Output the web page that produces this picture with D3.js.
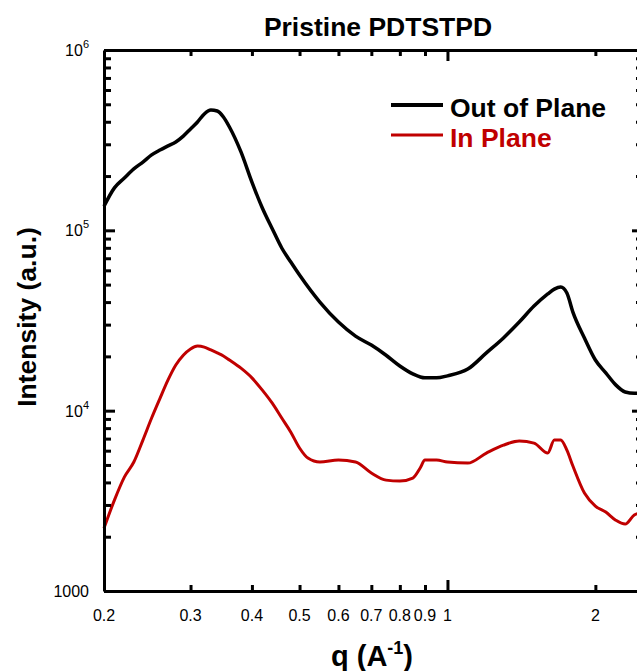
<!DOCTYPE html>
<html>
<head>
<meta charset="utf-8">
<script src="https://cdn.jsdelivr.net/npm/d3@7"></script>
<style>
  body { margin: 0; background: #fff; }
  text { font-family: "Liberation Sans", Arial, sans-serif; fill: #000; }
</style>
</head>
<body>
<svg id="canvas"></svg>
<script>
// q values (A^-1) and intensities
const qOut = [0.2, 0.21, 0.22, 0.23, 0.24, 0.25, 0.26, 0.27, 0.28, 0.29, 0.3, 0.31, 0.32, 0.33, 0.34, 0.35, 0.36, 0.38, 0.4, 0.42, 0.44, 0.46, 0.48, 0.5, 0.55, 0.6, 0.65, 0.7, 0.75, 0.8, 0.85, 0.9, 0.95, 1.0, 1.1, 1.2, 1.3, 1.4, 1.5, 1.6, 1.65, 1.7, 1.75, 1.8, 1.9, 2.0, 2.1, 2.2, 2.3, 2.4, 2.45];
const iOut = [136000, 172000, 195000, 219000, 239000, 262000, 279000, 294000, 309000, 333000, 365000, 399000, 442000, 465000, 459000, 425000, 374000, 272000, 185000, 133000, 102000, 79800, 66700, 56500, 40000, 31000, 25900, 23100, 20300, 17700, 16000, 15200, 15200, 15600, 17000, 20900, 25300, 31000, 38000, 44400, 47200, 48500, 44900, 35200, 25300, 19100, 16200, 13900, 12700, 12500, 12500];

const qIn = [0.2, 0.21, 0.22, 0.23, 0.24, 0.25, 0.26, 0.27, 0.28, 0.29, 0.3, 0.31, 0.32, 0.33, 0.34, 0.35, 0.36, 0.38, 0.4, 0.42, 0.44, 0.46, 0.48, 0.5, 0.52, 0.55, 0.6, 0.65, 0.7, 0.75, 0.8, 0.85, 0.88, 0.9, 0.95, 1.0, 1.1, 1.2, 1.3, 1.4, 1.5, 1.6, 1.65, 1.7, 1.75, 1.8, 1.9, 2.0, 2.1, 2.2, 2.3, 2.4, 2.45];
const iIn = [2230, 3190, 4280, 5190, 6870, 9100, 11700, 14800, 17900, 20300, 22000, 22800, 22500, 21700, 20900, 20100, 19100, 17200, 15200, 13000, 11000, 9100, 7600, 6210, 5460, 5190, 5320, 5190, 4510, 4120, 4070, 4230, 4810, 5320, 5320, 5190, 5120, 5820, 6440, 6780, 6610, 5820, 6870, 6870, 6040, 4930, 3490, 2960, 2740, 2470, 2350, 2640, 2700];

const seriesNames = ['Out of Plane', 'In Plane'];
const seriesColors = ['#000000', '#c00000'];

const xTickLabels = [0.2, 0.3, 0.4, 0.5, 0.6, 0.7, 0.8, 0.9, 1, 2];
const xMinor = [0.3, 0.4, 0.5, 0.6, 0.7, 0.8, 0.9, 2];
const yMajor = [1000, 1e4, 1e5, 1e6];

const w = 637;
const h = 671;
const padLeft = 104, padTop = 50, padBottom = 591, padRight = 643;

const x = d3.scaleLog().domain([0.2, 2.5]).range([padLeft, padRight]);
const y = d3.scaleLog().domain([1000, 1e6]).range([padBottom, padTop]);

// minor y ticks 2..9 in each decade
let yMinor = [];
for (let k = 3; k < 6; k++) {
  for (let m = 2; m <= 9; m++) yMinor.push(m * Math.pow(10, k));
}

const svg = d3.select('#canvas').attr('width', w).attr('height', h);

// curves
const line = d3.line()
  .x(d => x(d[0]))
  .y(d => y(d[1]))
  .curve(d3.curveMonotoneX);

const outData = qOut.map((q, i) => [q, iOut[i]]);
const inData = qIn.map((q, i) => [q, iIn[i]]);

svg.append('path').datum(outData).attr('d', line)
  .attr('fill', 'none').attr('stroke', seriesColors[0]).attr('stroke-width', 3.5).attr('stroke-linejoin', 'round');
svg.append('path').datum(inData).attr('d', line)
  .attr('fill', 'none').attr('stroke', seriesColors[1]).attr('stroke-width', 3).attr('stroke-linejoin', 'round');

// axes
function styleAxis(g) {
  g.select('.domain').attr('stroke-width', 3).attr('stroke', '#000');
  g.selectAll('.tick line').attr('stroke-width', 3).attr('stroke', '#000');
}

// bottom
svg.append('g').attr('transform', 'translate(0,' + padBottom + ')')
  .call(d3.axisBottom(x).tickValues(xMinor).tickSize(-6).tickSizeOuter(0).tickFormat(''))
  .call(styleAxis);
svg.append('g').attr('transform', 'translate(0,' + padBottom + ')')
  .call(d3.axisBottom(x).tickValues([1]).tickSize(-11).tickSizeOuter(0).tickFormat(''))
  .call(g => g.select('.domain').remove())
  .call(styleAxis);
svg.append('g').selectAll('text').data(xTickLabels).enter().append('text')
  .attr('x', d => x(d)).attr('y', 621)
  .attr('text-anchor', 'middle').attr('font-size', 16)
  .text(d => String(d));

// top
svg.append('g').attr('transform', 'translate(0,' + padTop + ')')
  .call(d3.axisTop(x).tickValues(xMinor).tickSize(-6).tickSizeOuter(0).tickFormat(''))
  .call(styleAxis);
svg.append('g').attr('transform', 'translate(0,' + padTop + ')')
  .call(d3.axisTop(x).tickValues([1]).tickSize(-11).tickSizeOuter(0).tickFormat(''))
  .call(g => g.select('.domain').remove())
  .call(styleAxis);

// left
svg.append('g').attr('transform', 'translate(' + padLeft + ',0)')
  .call(d3.axisLeft(y).tickValues(yMinor).tickSize(-7).tickSizeOuter(0).tickFormat(''))
  .call(styleAxis);
svg.append('g').attr('transform', 'translate(' + padLeft + ',0)')
  .call(d3.axisLeft(y).tickValues(yMajor).tickSize(-11).tickSizeOuter(0).tickFormat(''))
  .call(g => g.select('.domain').remove())
  .call(styleAxis);

// right
svg.append('g').attr('transform', 'translate(' + padRight + ',0)')
  .call(d3.axisRight(y).tickValues(yMinor).tickSize(-7).tickSizeOuter(0).tickFormat(''))
  .call(styleAxis);
svg.append('g').attr('transform', 'translate(' + padRight + ',0)')
  .call(d3.axisRight(y).tickValues(yMajor).tickSize(-11).tickSizeOuter(0).tickFormat(''))
  .call(g => g.select('.domain').remove())
  .call(styleAxis);

// y tick labels with superscripts
const yLab = svg.append('g').selectAll('text').data(yMajor).enter().append('text')
  .attr('x', 89).attr('y', d => y(d) + 6)
  .attr('text-anchor', 'end').attr('font-size', 16);
yLab.each(function(d) {
  const t = d3.select(this);
  const p = Math.round(Math.log10(d));
  if (p === 3) {
    t.text('1000');
  } else {
    t.append('tspan').text('10');
    t.append('tspan').attr('font-size', 11).attr('dy', -8).text(p);
  }
});

// title
svg.append('text').attr('x', 378).attr('y', 36)
  .attr('text-anchor', 'middle').attr('font-size', 26.5).attr('font-weight', 'bold')
  .text('Pristine PDTSTPD');

// y title
svg.append('text')
  .attr('transform', 'translate(36,317) rotate(-90)')
  .attr('text-anchor', 'middle').attr('font-size', 26.5).attr('font-weight', 'bold')
  .text('Intensity (a.u.)');

// x title
const xt = svg.append('text').attr('x', 372).attr('y', 666)
  .attr('text-anchor', 'middle').attr('font-size', 29).attr('font-weight', 'bold');
xt.append('tspan').text('q (A');
xt.append('tspan').attr('font-size', 18).attr('dy', -12).text('-1');
xt.append('tspan').attr('dy', 12).text(')');

// legend
const legend = svg.append('g');
seriesNames.forEach((name, i) => {
  const ly = 105 + i * 30;
  legend.append('line').attr('x1', 391).attr('x2', 443).attr('y1', ly).attr('y2', ly)
    .attr('stroke', seriesColors[i]).attr('stroke-width', i === 0 ? 4 : 3);
  legend.append('text').attr('x', 450).attr('y', ly + 12)
    .attr('font-size', 26.5).attr('font-weight', 'bold')
    .style('fill', seriesColors[i])
    .text(name);
});
</script>
</body>
</html>
